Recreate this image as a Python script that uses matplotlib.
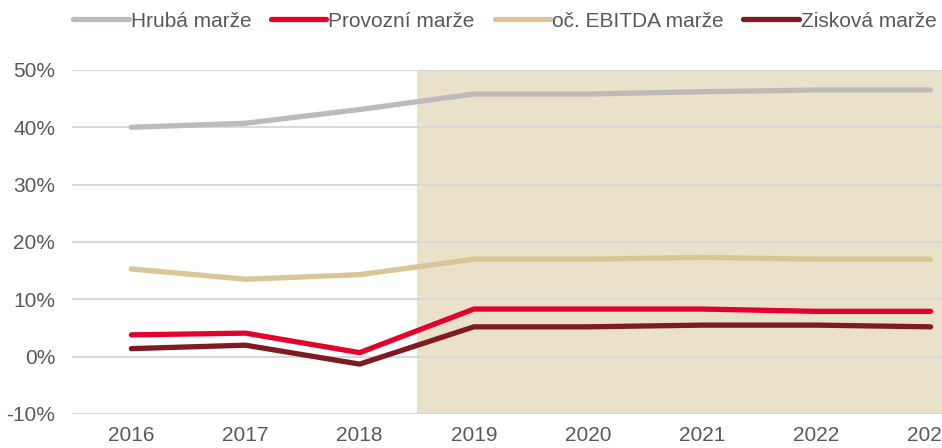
import matplotlib.pyplot as plt
from matplotlib.ticker import FuncFormatter

years = [2016, 2017, 2018, 2019, 2020, 2021, 2022, 2023]
hruba = [40.0, 40.7, 43.1, 45.8, 45.8, 46.2, 46.5, 46.5]
ebitda = [15.3, 13.5, 14.3, 17.0, 17.0, 17.3, 17.0, 17.0]
provozni = [3.8, 4.1, 0.7, 8.3, 8.3, 8.3, 7.9, 7.9]
ziskova = [1.4, 2.0, -1.3, 5.2, 5.2, 5.5, 5.5, 5.2]

series = [
    ("Hrubá marže", hruba, "#BFBABA"),
    ("Provozní marže", provozni, "#E4002B"),
    ("oč. EBITDA marže", ebitda, "#D9C596"),
    ("Zisková marže", ziskova, "#7D1A22"),
]

plt.rcParams['font.family'] = ['Liberation Sans', 'DejaVu Sans']
txt = "#595959"

fig = plt.figure(figsize=(9.42, 4.48), dpi=100)
ax = fig.add_axes([0.0764, 0.0759, 0.9236, 0.768])

ax.axvspan(2018.5, 2024, color="#EAE1CA", zorder=0, lw=0)
for y in range(-10, 51, 10):
    ax.axhline(y, color="#D9D9D9", lw=1.5, zorder=1)

for name, vals, col in series:
    ax.plot(years, vals, color=col, lw=3.8, solid_capstyle='round',
            solid_joinstyle='round', label=name, zorder=3)

ax.set_xlim(2015.48, 2023.1)
ax.set_ylim(-10, 50)
ax.set_yticks(range(-10, 51, 10))
ax.yaxis.set_major_formatter(FuncFormatter(lambda v, p: f"{int(v)}%"))
ax.set_xticks(years)
ax.set_xticklabels([str(y) for y in years])
for s in ax.spines.values():
    s.set_visible(False)
ax.tick_params(length=0, labelsize=15, colors=txt)
ax.tick_params(axis='y', pad=12)
ax.tick_params(axis='x', pad=9)

leg = fig.legend(loc='center', bbox_to_anchor=(0.536, 0.953), ncol=4, frameon=False,
                 fontsize=15, handlelength=2.65, handletextpad=0.1, columnspacing=0.95,
                 borderpad=0.2)
for t in leg.get_texts():
    t.set_color(txt)

fig.savefig("out.png", dpi=100)
